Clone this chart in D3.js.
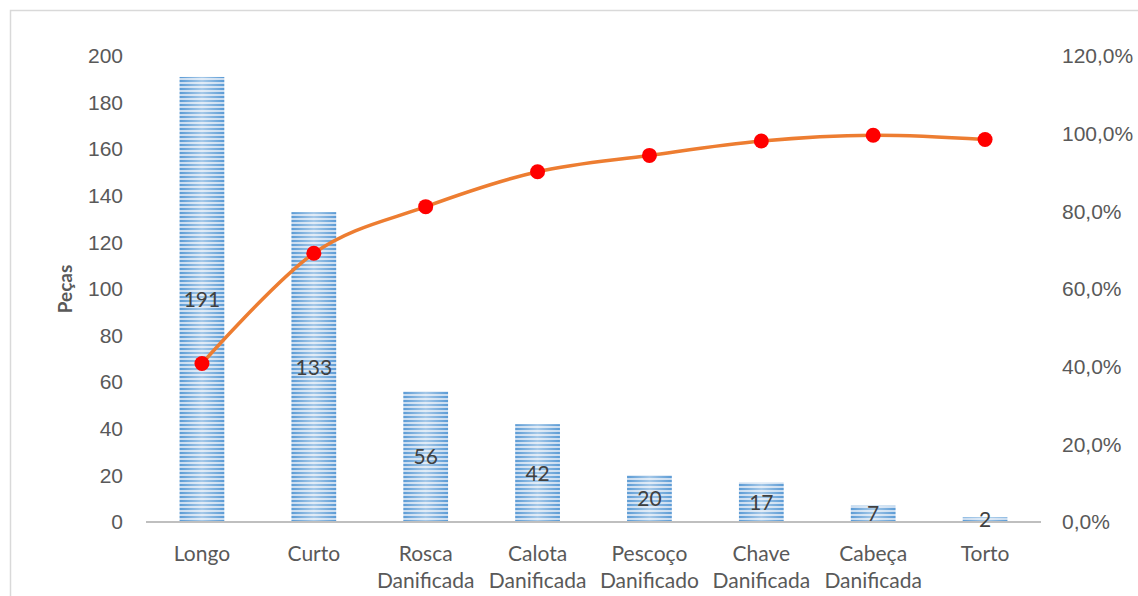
<!DOCTYPE html>
<html>
<head>
<meta charset="utf-8">
<script src="https://cdn.jsdelivr.net/npm/d3@7"></script>
<style>
  body { margin: 0; background: #fff; }
  svg { font-family: Lato, "Open Sans", sans-serif; }
</style>
</head>
<body>
<div id="chart"></div>
<script>
// Pareto data
var categories = ["Longo", "Curto", "Rosca Danificada", "Calota Danificada", "Pescoço Danificado",
  "Chave Danificada", "Cabeça Danificada", "Torto"];
var pecas = [191, 133, 56, 42, 20, 17, 7, 2];
var acumulado = [40.8, 69.2, 81.2, 90.2, 94.4, 98.1, 99.6, 98.5];
var leftTicks = [0, 20, 40, 60, 80, 100, 120, 140, 160, 180, 200];
var rightTicks = [0, 20, 40, 60, 80, 100, 120];

var svgWidth = 1138;
var svgHeight = 596;

var margin = { top: 56, right: 97, bottom: 74, left: 146 };
var width = svgWidth - margin.left - margin.right;
var height = svgHeight - margin.top - margin.bottom;

var svg = d3.select("#chart")
  .append("svg")
  .attr("width", svgWidth)
  .attr("height", svgHeight);

// outer chart border
svg.append("rect")
  .attr("x", 10.5).attr("y", 10.5)
  .attr("width", 1140).attr("height", 600)
  .attr("fill", "none")
  .attr("stroke", "#d9d9d9")
  .attr("stroke-width", 1.5);

var defs = svg.append("defs");
var pat = defs.append("pattern")
  .attr("id", "stripes")
  .attr("patternUnits", "userSpaceOnUse")
  .attr("width", 8).attr("height", 4);
pat.append("rect").attr("width", 8).attr("height", 4).attr("fill", "#c9dcf0");
pat.append("rect").attr("width", 8).attr("height", 2).attr("fill", "#5b9bd5");

var grad = defs.append("linearGradient").attr("id", "shine")
  .attr("x1", "0%").attr("x2", "100%").attr("y1", "0%").attr("y2", "0%");
grad.append("stop").attr("offset", "0%").attr("stop-color", "#fff").attr("stop-opacity", 0);
grad.append("stop").attr("offset", "50%").attr("stop-color", "#fff").attr("stop-opacity", 0.45);
grad.append("stop").attr("offset", "100%").attr("stop-color", "#fff").attr("stop-opacity", 0);

var chartGroup = svg.append("g")
  .attr("transform", `translate(${margin.left}, ${margin.top})`);

var x = d3.scaleBand()
  .domain(categories)
  .range([0, width])
  .paddingInner(0.6)
  .paddingOuter(0.3);

var y = d3.scaleLinear().domain([0, 200]).range([height, 0]);
var y2 = d3.scaleLinear().domain([0, 120]).range([height, 0]);

// bars
chartGroup.selectAll(".bar")
  .data(pecas)
  .enter()
  .append("rect")
  .attr("class", "bar")
  .attr("x", (d, i) => x(categories[i]))
  .attr("y", d => y(d))
  .attr("width", x.bandwidth())
  .attr("height", d => height - y(d))
  .attr("fill", "url(#stripes)");

chartGroup.selectAll(".shine")
  .data(pecas)
  .enter()
  .append("rect")
  .attr("x", (d, i) => x(categories[i]))
  .attr("y", d => y(d))
  .attr("width", x.bandwidth())
  .attr("height", d => height - y(d))
  .attr("fill", "url(#shine)");

// axis line
chartGroup.append("line")
  .attr("x1", 0).attr("x2", width)
  .attr("y1", height).attr("y2", height)
  .attr("stroke", "#bfbfbf")
  .attr("stroke-width", 2);

// left axis
var yAxis = d3.axisLeft(y).tickValues(leftTicks).tickSize(0).tickPadding(23);
var gl = chartGroup.append("g").call(yAxis);
gl.select(".domain").remove();
gl.selectAll("text").attr("fill", "#595959").style("font-size", "21px");

// right axis
var yAxis2 = d3.axisRight(y2).tickValues(rightTicks).tickSize(0).tickPadding(21)
  .tickFormat(d => d.toFixed(1).replace(".", ",") + "%");
var gr = chartGroup.append("g").attr("transform", `translate(${width}, 0)`).call(yAxis2);
gr.select(".domain").remove();
gr.selectAll("text").attr("fill", "#595959").style("font-size", "21px");

// category labels (two lines)
var xl = chartGroup.selectAll(".xlab")
  .data(categories)
  .enter()
  .append("text")
  .attr("text-anchor", "middle")
  .attr("fill", "#595959")
  .style("font-size", "21px")
  .attr("transform", d => `translate(${x(d) + x.bandwidth() / 2}, ${height + 39})`);
xl.each(function(d) {
  var parts = d.split(" ");
  var t = d3.select(this);
  parts.forEach(function(p, i) {
    t.append("tspan").attr("x", 0).attr("dy", i === 0 ? 0 : 27).text(p);
  });
});

// value labels
chartGroup.selectAll(".val")
  .data(pecas)
  .enter()
  .append("text")
  .attr("x", (d, i) => x(categories[i]) + x.bandwidth() / 2)
  .attr("y", d => (y(d) + height) / 2)
  .attr("dy", "0.36em")
  .attr("text-anchor", "middle")
  .attr("fill", "#404040")
  .style("font-size", "21px")
  .text(d => d);

// cumulative line
var line = d3.line()
  .x((d, i) => x(categories[i]) + x.bandwidth() / 2)
  .y(d => y2(d))
  .curve(d3.curveCatmullRom.alpha(0));

chartGroup.append("path")
  .datum(acumulado)
  .attr("d", line)
  .attr("fill", "none")
  .attr("stroke", "#ed7d31")
  .attr("stroke-width", 3.5);

chartGroup.selectAll(".pt")
  .data(acumulado)
  .enter()
  .append("circle")
  .attr("cx", (d, i) => x(categories[i]) + x.bandwidth() / 2)
  .attr("cy", d => y2(d))
  .attr("r", 7.5)
  .attr("fill", "#ff0000");

// y axis title
chartGroup.append("text")
  .attr("transform", `translate(${72 - margin.left}, ${289 - margin.top}) rotate(-90)`)
  .attr("text-anchor", "middle")
  .attr("fill", "#595959")
  .style("font-size", "19px")
  .style("font-weight", "bold")
  .text("Peças");
</script>
</body>
</html>
